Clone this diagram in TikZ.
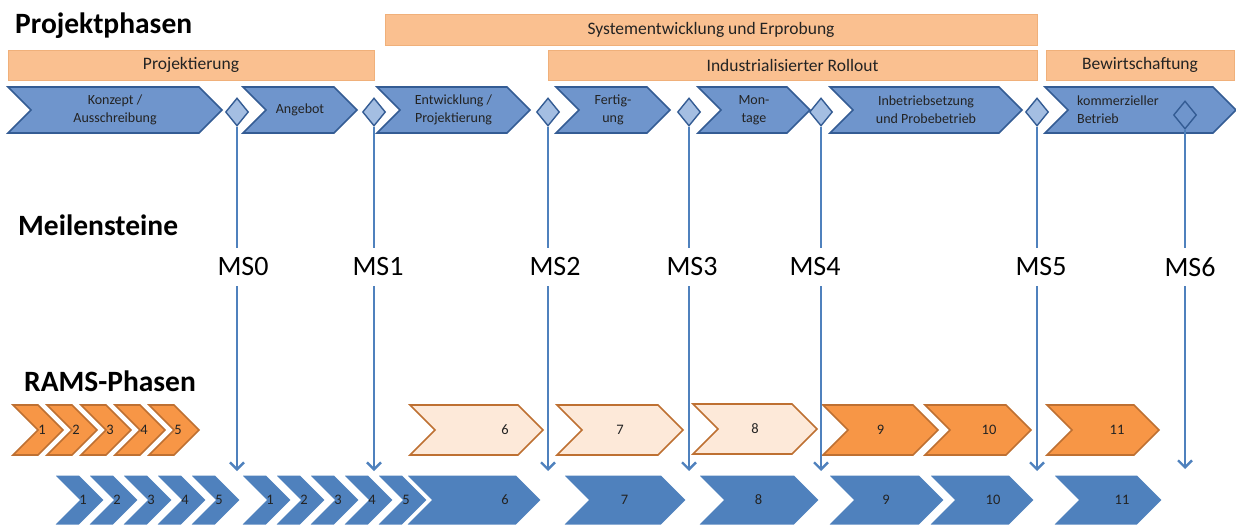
\documentclass[tikz,border=0pt]{standalone}
\usepackage{fontspec}
\setmainfont{Carlito}
\usetikzlibrary{positioning,arrows.meta,shapes.geometric,shapes.symbols}
\definecolor{PhaseOrange}{RGB}{250,192,144}
\definecolor{PhaseEdge}{RGB}{240,176,122}
\definecolor{StepBlue}{RGB}{111,149,204}
\definecolor{StepEdge}{RGB}{52,92,148}
\definecolor{GateBlue}{RGB}{164,190,226}
\definecolor{LineBlue}{RGB}{79,129,189}
\definecolor{RamsOrange}{RGB}{247,150,70}
\definecolor{RamsEdge}{RGB}{190,112,50}
\definecolor{RamsLight}{RGB}{253,233,217}
\definecolor{TextDark}{RGB}{35,35,35}
\tikzset{
  sectiontitle/.style={font=\fontsize{29.5}{31}\selectfont\bfseries,anchor=base west,inner sep=0pt},
  phasebar/.style={draw=PhaseEdge,fill=PhaseOrange,line width=1pt,inner sep=0pt,
    font=\fontsize{17.5}{19}\selectfont,text=TextDark},
  projstep/.style={signal,signal from=west,signal to=east,draw=StepEdge,fill=StepBlue,
    line width=1.6pt,inner sep=0pt,minimum height=46pt,align=center,
    font=\fontsize{14}{18}\selectfont,text=TextDark},
  steptext/.style={align=left,inner sep=0pt,font=\fontsize{14}{18}\selectfont,text=TextDark},
  gate/.style={diamond,draw=StepEdge,fill=GateBlue,line width=1.4pt,inner sep=0pt,
    minimum width=23pt,minimum height=28pt},
  mslabel/.style={font=\fontsize{28}{30}\selectfont,inner sep=0pt,minimum height=38pt},
  msline/.style={draw=LineBlue,line width=2.4pt},
  msarrow/.style={msline,-{Straight Barb[length=7pt,width=14pt]}},
  ramsbox/.style={signal,signal from=west,signal to=east,draw=RamsEdge,fill=RamsOrange,
    line width=1.6pt,inner sep=0pt,minimum height=50pt,
    font=\fontsize{14.5}{16}\selectfont,text=TextDark},
  ramslight/.style={ramsbox,fill=RamsLight},
  lifebox/.style={signal,signal from=west,signal to=east,draw=white,fill=LineBlue,
    line width=2pt,inner sep=0pt,minimum height=51pt,
    font=\fontsize{14.5}{16}\selectfont,text=TextDark},
  numtext/.style={inner sep=0pt,font=\fontsize{14.5}{16}\selectfont,text=TextDark}
}
\begin{document}
\begin{tikzpicture}[x=1pt,y=-1pt]
  \useasboundingbox (0,0) rectangle (1236,525);

  % section titles
  \node[sectiontitle] (projphasen) at (15,33) {Projektphasen};
  \node[sectiontitle] (meilen) at (18,235) {Meilensteine};
  \node[sectiontitle] (rams) at (24,391) {RAMS-Phasen};

  % phase bars
  \node[phasebar,minimum width=652pt,minimum height=31pt] (sys) at (711,29.5) {Systementwicklung und Erprobung};
  \node[phasebar,minimum width=366pt,minimum height=30pt] (proj) at (191,65) {Projektierung};
  \node[phasebar,minimum width=489pt,minimum height=30pt] (roll) at (792.5,65) {Industrialisierter Rollout};
  \node[phasebar,minimum width=188pt,minimum height=30pt] (bew) at (1140,65) {Bewirtschaftung};

  % project steps
  \node[projstep,minimum width=214pt] (konzept) at (115,110) {Konzept /\\Ausschreibung};
  \node[projstep,minimum width=114pt] (angebot) at (300,110) {Angebot};
  \node[projstep,minimum width=153pt] (entw) at (453.5,110) {Entwicklung /\\Projektierung};
  \node[projstep,minimum width=114pt] (fert) at (613,110) {Fertig-\\ung};
  \node[projstep,minimum width=112pt] (mont) at (754,110) {Mon-\\tage};
  \node[projstep,minimum width=192pt] (inbetr) at (926,110) {Inbetriebsetzung\\und Probebetrieb};
  \node[projstep,minimum width=191pt] (betrieb) at (1140.5,110) {};
  \node[steptext,anchor=west] (betriebtext) at (1077,110) {kommerzieller\\Betrieb};

  % RAMS phases
  \foreach \n in {1,...,5}
    \node[ramsbox,minimum width=50pt,label={[numtext,xshift=4pt]center:\n}] (r\n) at ({38+34*(\n-1)},430) {};
  \node[ramslight,minimum width=133pt,label={[numtext,xshift=28.5pt]center:6}] (r6) at (476.5,430) {};
  \node[ramslight,minimum width=126pt] (r7) at (620,430) {7};
  \node[ramslight,minimum width=124pt] (r8) at (755,429) {8};
  \node[ramsbox,minimum width=115pt] (r9) at (880.5,430) {9};
  \node[ramsbox,minimum width=106pt,label={[numtext,xshift=11pt]center:10}] (r10) at (978,430) {};
  \node[ramsbox,minimum width=112pt,label={[numtext,xshift=14pt]center:11}] (r11) at (1103,430) {};

  % life cycle row
  \foreach \n in {1,...,5}
    \node[lifebox,minimum width=52pt,label={[numtext,xshift=4pt]center:\n}] (a\n) at ({79+34*(\n-1)},500) {};
  \foreach \n in {1,...,5}
    \node[lifebox,minimum width=52pt,label={[numtext,xshift=4pt]center:\n}] (c\n) at ({266+34*(\n-1)},500) {};
  \node[lifebox,minimum width=137pt,label={[numtext,xshift=31.5pt]center:6}] (b6) at (473.5,500) {};
  \node[lifebox,minimum width=125pt] (b7) at (624.5,500) {7};
  \node[lifebox,minimum width=123pt] (b8) at (758.5,500) {8};
  \node[lifebox,minimum width=118pt] (b9) at (886,500) {9};
  \node[lifebox,minimum width=107pt,label={[numtext,xshift=11.5pt]center:10}] (b10) at (981.5,500) {};
  \node[lifebox,minimum width=111pt,label={[numtext,xshift=14.5pt]center:11}] (b11) at (1107.5,500) {};

  % milestones
  \foreach \i/\x/\lx in {0/237/243,1/374/378,2/548/555,3/689/692,4/821/815,5/1037/1041}{
    \node[gate] (g\i) at (\x,112) {};
    \node[mslabel] (m\i) at (\lx,267) {MS\i};
    \coordinate (t\i) at (\x,471);
  }
  \node[gate,fill=StepBlue] (g6) at (1185,115) {};
  \node[mslabel] (m6) at (1190,267) {MS6};
  \coordinate (t6) at (1185,469);
  \foreach \i in {0,...,6}{
    \draw[msline] (g\i.south) -- (g\i.south |- m\i.north);
    \draw[msarrow] (g\i.south |- m\i.south) -- (t\i);
  }
\end{tikzpicture}
\end{document}
